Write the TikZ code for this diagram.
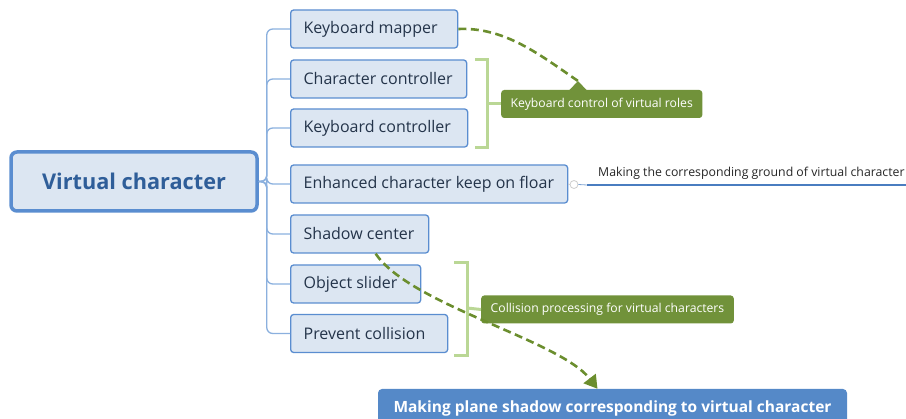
\documentclass[tikz,border=0pt]{standalone}
\usepackage{fontspec}
\setmainfont{Open Sans}
\usetikzlibrary{arrows.meta}
\definecolor{boxfill}{HTML}{DCE6F2}
\definecolor{boxline}{HTML}{5A8DD0}
\definecolor{trunkc}{HTML}{8BB0DE}
\definecolor{olive}{HTML}{71923A}
\definecolor{dashc}{HTML}{6B8E2E}
\definecolor{bracketc}{HTML}{BAD795}
\definecolor{bluebox}{HTML}{5589C8}
\definecolor{darktext}{HTML}{24344A}
\definecolor{vctext}{HTML}{2F5E99}
\definecolor{linec}{HTML}{4A7DC0}
\newcommand\leftbox[2]{\makebox[#1][l]{#2}}
\begin{document}
\begin{tikzpicture}[x=1pt,y=-1pt,
  leaf/.style={draw=boxline, fill=boxfill, line width=1.3pt, rounded corners=3pt,
    anchor=west, inner xsep=13pt, inner ysep=0pt, minimum height=38pt,
    font=\fontsize{16}{18}\selectfont, text=darktext},
  trunk/.style={draw=trunkc, line width=1.3pt, rounded corners=6pt},
  bracket/.style={draw=bracketc, line width=3pt},
  lab/.style={fill=olive, text=white, rounded corners=3pt, anchor=west, inner xsep=9.5pt,
    minimum height=28pt, font=\fontsize{12.2}{14}\selectfont},
  dashline/.style={draw=dashc, line width=2.6pt, dash pattern=on 8pt off 4.5pt}]
\useasboundingbox (0,0) rectangle (906,419);
\clip (0,0) rectangle (906,419);
% central node
\node[draw=boxline, fill=boxfill, line width=3.5pt, rounded corners=6pt,
  minimum width=246pt, minimum height=59pt, text=vctext,
  font=\fontsize{21.7}{24}\bfseries\selectfont] (vc) at (134,181.5) {Virtual character};
% children
\node[leaf] (km)  at (290,29)    {\leftbox{141pt}{Keyboard mapper}};
\node[leaf] (cc)  at (290,79)    {\leftbox{150pt}{Character controller}};
\node[leaf] (kc)  at (290,128)   {\leftbox{151pt}{Keyboard controller}};
\node[leaf] (ekf) at (290,184)   {\leftbox{251pt}{Enhanced character keep on floar}};
\node[leaf] (sc)  at (290,234)   {\leftbox{112pt}{Shadow center}};
\node[leaf] (os)  at (290,284)   {\leftbox{104pt}{Object slider}};
\node[leaf] (pc)  at (290,333.5) {\leftbox{131pt}{Prevent collision}};
% trunk connectors
\foreach \c in {km,cc,kc,ekf,sc,os,pc}
  \draw[trunk] (vc.east) -- ++(8,0) |- (\c.west);
% labels
\node[lab] (kcl) at (501,104) {Keyboard control of virtual roles};
\node[lab] (cpl) at (481,309.5) {Collision processing for virtual characters};
\coordinate (tip1) at (578,81);
\fill[olive] (569,90.5) -- (tip1) -- (587,90.5) -- cycle;
% brackets
\draw[bracket] (475,60) -- (487,60) -- (487,148) -- (475,148);
\draw[bracket] (487,104) -- (kcl.west);
\draw[bracket] (454,263) -- (467,263) -- (467,356) -- (454,356);
\draw[bracket] (467,308) -- (cpl.west);
% floor branch
\node[circle, draw=gray!40, line width=0.8pt, inner sep=0pt, minimum size=8pt] (cir) at (574,184.5) {};
\draw[draw=gray!45, line width=0.8pt] (ekf.east) -- (cir.west);
\coordinate (lmid) at (587,185);
\coordinate (lend) at (906,185);
\draw[draw=linec!70, line width=0.8pt] (cir.east) -- (lmid);
\draw[draw=linec, line width=1.8pt] (lmid) -- (lend);
\node[anchor=base west, inner sep=0pt, font=\fontsize{12.3}{15}\selectfont, text=black!85] (gl) at (598,177) {Making the corresponding ground of virtual character};
% bottom node
\node[fill=bluebox, rounded corners=4pt, minimum width=469pt, minimum height=38pt,
  text=white, font=\fontsize{15.5}{18}\bfseries\selectfont] (mp) at (612.5,408) {Making plane shadow corresponding to virtual character};
% dashed connectors
\draw[dashline] (km.east) .. controls (505,27) and (540,55) .. (tip1);
\draw[dashline, -{Triangle[length=13pt,width=15pt]}] ([xshift=16pt]sc.south) .. controls (410,305) and (560,340) .. ([xshift=-15pt]mp.north);
\end{tikzpicture}
\end{document}
